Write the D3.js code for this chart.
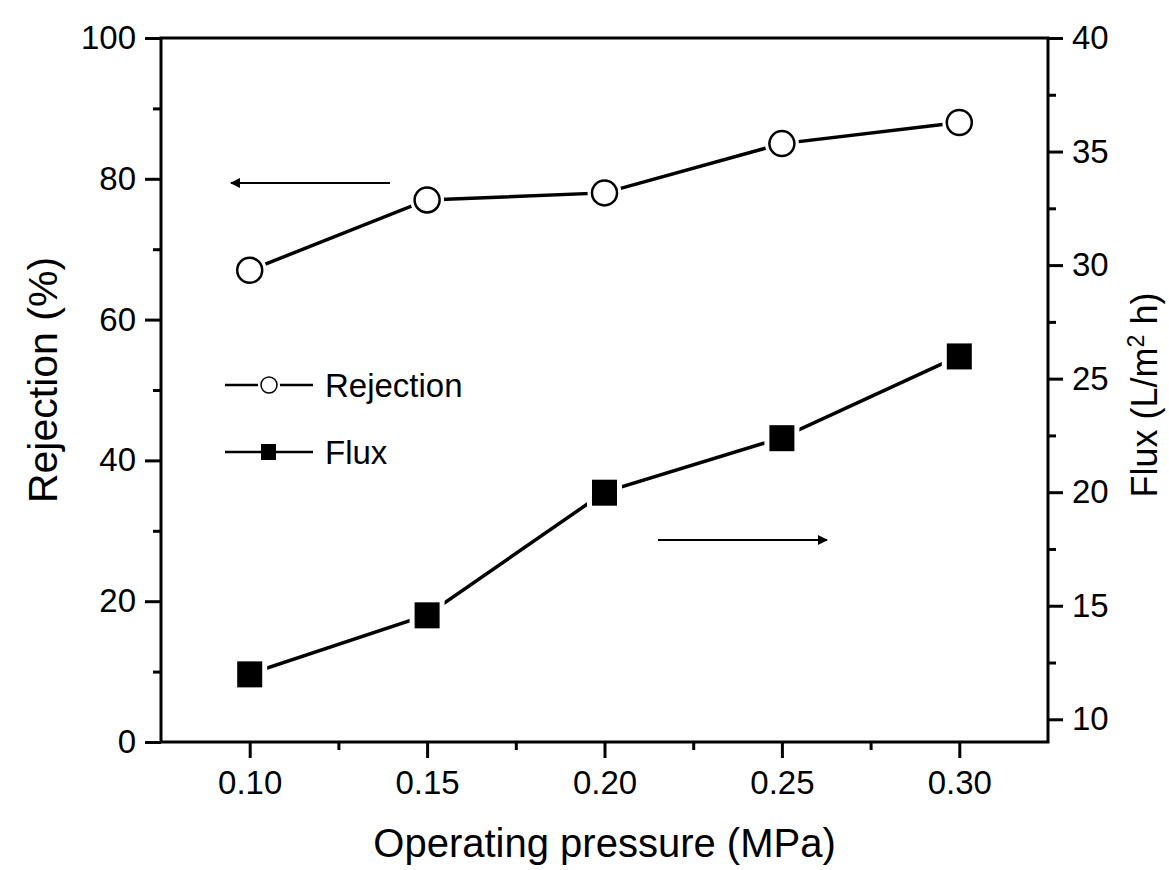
<!DOCTYPE html>
<html><head><meta charset="utf-8">
<script src="https://cdn.jsdelivr.net/npm/d3@7"></script>
<style>
body{margin:0;background:#fff;}
svg text{font-family:"Liberation Sans",Arial,Helvetica,sans-serif;fill:#000;}
</style></head>
<body><svg id="c" width="1169" height="870"></svg>
<script>
const pressure = [0.10, 0.15, 0.20, 0.25, 0.30];
const rejection = [67, 77, 78, 85, 88];
const flux = [12, 14.6, 20, 22.4, 26];
const xTicks = [0.10, 0.15, 0.20, 0.25, 0.30];
const leftTicks = [0, 20, 40, 60, 80, 100];
const rightTicks = [10, 15, 20, 25, 30, 35, 40];

const svg = d3.select("#c");
const L = 161, R = 1048, T = 38, B = 742;
const x = d3.scaleLinear().domain([0.075, 0.325]).range([L, R]);
const yL = d3.scaleLinear().domain([0, 100]).range([B, T]);
const yR = d3.scaleLinear().domain([9, 40]).range([B, T]);

const axW = 3;
svg.append("rect").attr("x", L).attr("y", T).attr("width", R - L).attr("height", B - T)
  .attr("fill", "none").attr("stroke", "#000").attr("stroke-width", axW);

const gx = svg.append("g").attr("transform", `translate(0,${B})`)
  .call(d3.axisBottom(x).tickValues(xTicks).tickFormat(d3.format(".2f")).tickSize(16).tickPadding(13));
const gxm = svg.append("g").attr("transform", `translate(0,${B})`)
  .call(d3.axisBottom(x).tickValues([0.125, 0.175, 0.225, 0.275]).tickFormat("").tickSize(8));
const gl = svg.append("g").attr("transform", `translate(${L},0)`)
  .call(d3.axisLeft(yL).tickValues(leftTicks).tickSize(16).tickPadding(9));
const glm = svg.append("g").attr("transform", `translate(${L},0)`)
  .call(d3.axisLeft(yL).tickValues([10, 30, 50, 70, 90]).tickFormat("").tickSize(8));
const gr = svg.append("g").attr("transform", `translate(${R},0)`)
  .call(d3.axisRight(yR).tickValues(rightTicks).tickSize(15).tickPadding(9));
const grm = svg.append("g").attr("transform", `translate(${R},0)`)
  .call(d3.axisRight(yR).tickValues([12.5, 17.5, 22.5, 27.5, 32.5, 37.5]).tickFormat("").tickSize(8));

[gx, gxm, gl, glm, gr, grm].forEach(g => {
  g.select(".domain").remove();
  g.selectAll(".tick line").attr("stroke", "#000").attr("stroke-width", 3);
  g.selectAll(".tick text").attr("font-size", 33).attr("fill", "#000")
    .style("font-family", '"Liberation Sans",Arial,sans-serif');
});

svg.append("text").attr("x", (L + R) / 2).attr("y", 857).attr("text-anchor", "middle")
  .attr("font-size", 40).text("Operating pressure (MPa)");
svg.append("text").attr("transform", `translate(57,${(T + B) / 2 - 10}) rotate(-90)`)
  .attr("text-anchor", "middle").attr("font-size", 41).text("Rejection (%)");
const ft = svg.append("text").attr("transform", `translate(1157,${(T + B) / 2 + 5}) rotate(-90)`)
  .attr("text-anchor", "middle").attr("font-size", 36);
ft.append("tspan").text("Flux (L/m");
ft.append("tspan").attr("dy", -13).attr("font-size", 23).text("2");
ft.append("tspan").attr("dy", 13).text(" h)");

const rejData = pressure.map((p, i) => [p, rejection[i]]);
const fluxData = pressure.map((p, i) => [p, flux[i]]);
svg.append("path").datum(rejData)
  .attr("d", d3.line().x(d => x(d[0])).y(d => yL(d[1])))
  .attr("fill", "none").attr("stroke", "#000").attr("stroke-width", 3.5);
svg.append("path").datum(fluxData)
  .attr("d", d3.line().x(d => x(d[0])).y(d => yR(d[1])))
  .attr("fill", "none").attr("stroke", "#000").attr("stroke-width", 3.5);

svg.selectAll(".rh").data(rejData).join("circle")
  .attr("cx", d => x(d[0])).attr("cy", d => yL(d[1])).attr("r", 17).attr("fill", "#fff");
svg.selectAll(".rc").data(rejData).join("circle")
  .attr("cx", d => x(d[0])).attr("cy", d => yL(d[1])).attr("r", 12.5)
  .attr("fill", "#fff").attr("stroke", "#000").attr("stroke-width", 2.5);
const sq = 25;
svg.selectAll(".fh").data(fluxData).join("rect")
  .attr("x", d => x(d[0]) - sq / 2 - 5).attr("y", d => yR(d[1]) - sq / 2 - 5)
  .attr("width", sq + 10).attr("height", sq + 10).attr("fill", "#fff");
svg.selectAll(".fs").data(fluxData).join("rect")
  .attr("x", d => x(d[0]) - sq / 2).attr("y", d => yR(d[1]) - sq / 2)
  .attr("width", sq).attr("height", sq + 1).attr("fill", "#000");

const defs = svg.append("defs");
defs.append("marker").attr("id", "ah").attr("viewBox", "0 0 10 10").attr("refX", 9).attr("refY", 5)
  .attr("markerWidth", 10).attr("markerHeight", 5).attr("markerUnits", "strokeWidth").attr("orient", "auto")
  .append("path").attr("d", "M0,0 L10,5 L0,10 Z").attr("fill", "#000");
svg.append("line").attr("x1", 390).attr("y1", 183).attr("x2", 231).attr("y2", 183)
  .attr("stroke", "#000").attr("stroke-width", 2).attr("marker-end", "url(#ah)");
svg.append("line").attr("x1", 658).attr("y1", 540).attr("x2", 827).attr("y2", 540)
  .attr("stroke", "#000").attr("stroke-width", 2).attr("marker-end", "url(#ah)");

const lg = svg.append("g");
lg.append("line").attr("x1", 225).attr("x2", 313).attr("y1", 385).attr("y2", 385).attr("stroke", "#000").attr("stroke-width", 2.5);
lg.append("circle").attr("cx", 269).attr("cy", 385).attr("r", 11).attr("fill", "#fff");
lg.append("circle").attr("cx", 269).attr("cy", 385).attr("r", 8).attr("fill", "#fff").attr("stroke", "#000").attr("stroke-width", 1.5);
lg.append("text").attr("x", 325).attr("y", 397).attr("font-size", 33).text("Rejection");
lg.append("line").attr("x1", 225).attr("x2", 313).attr("y1", 452).attr("y2", 452).attr("stroke", "#000").attr("stroke-width", 2.5);
lg.append("rect").attr("x", 261).attr("y", 444).attr("width", 15).attr("height", 16).attr("fill", "#000");
lg.append("text").attr("x", 325).attr("y", 464).attr("font-size", 33).text("Flux");
</script></body></html>
